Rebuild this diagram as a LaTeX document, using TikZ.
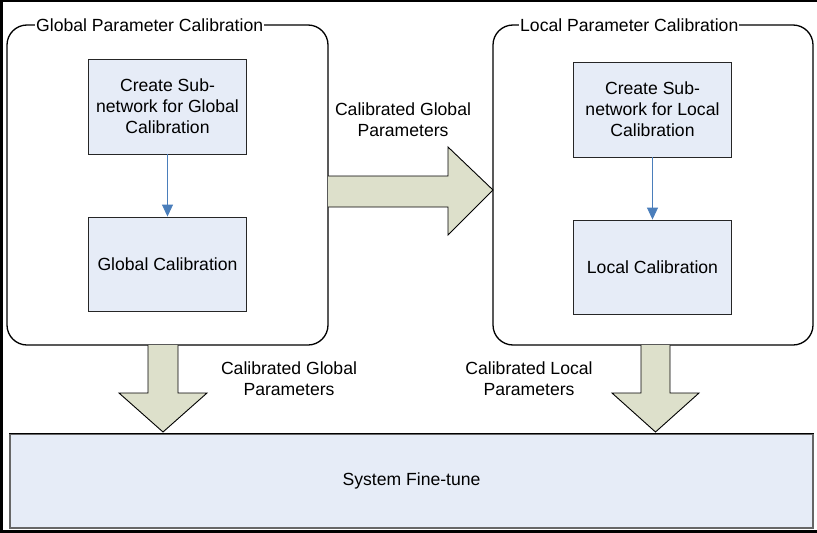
\documentclass[tikz,border=0pt]{standalone}
\usepackage{fontspec}
\setmainfont{Liberation Sans}
\usetikzlibrary{arrows.meta}
\definecolor{boxfill}{RGB}{230,236,247}
\definecolor{arrfill}{RGB}{221,224,203}
\definecolor{linkblue}{RGB}{74,126,187}
\tikzset{
  group/.style={draw=black, line width=1.3pt, rounded corners=20pt},
  grouptitle/.style={fill=white, inner xsep=1pt, inner ysep=0pt, anchor=west, font=\fontsize{17.6}{20}\selectfont},
  procbox/.style={draw=black!85, line width=0.9pt, fill=boxfill, minimum width=158pt, align=center, font=\fontsize{17.6}{21}\selectfont},
  blockarrow/.style={draw=black, line width=0.9pt, fill=arrfill, line join=miter},
  lbl/.style={align=center, font=\fontsize{17.6}{21}\selectfont},
  link/.style={draw=linkblue, line width=0.9pt, -{Triangle[length=12pt,width=11pt]}}
}
\begin{document}
\begin{tikzpicture}[x=1pt,y=-1pt]
\useasboundingbox (0,0) rectangle (817,533);
% outer frame
\draw[line width=2.5pt] (817,1.2) -- (1.5,1.2) -- (1.5,531.5) -- (817,531.5);

% groups
\draw[group] (7,25) rectangle (328,345);
\node[grouptitle] (gt) at (35,25) {Global Parameter Calibration};
\draw[group] (493,25) rectangle (813,345);
\node[grouptitle] (lt) at (519,25) {Local Parameter Calibration};

% inner boxes
\node[procbox, minimum height=95pt] (g1) at (167.5,106.5) {Create Sub-\\network for Global\\Calibration};
\node[procbox, minimum height=94pt] (g2) at (167.5,264) {Global Calibration};
\node[procbox, minimum height=95pt] (l1) at (652.5,109.5) {Create Sub-\\network for Local\\Calibration};
\node[procbox, minimum height=94pt] (l2) at (652.5,267) {Local Calibration};
\draw[link] (g1.south) -- (g2.north);
\draw[link] (l1.south) -- (l2.north);

% system box
\node[draw=black!60, line width=1.2pt, fill=boxfill, minimum width=803pt, minimum height=94pt, font=\fontsize{17.6}{20}\selectfont] (sys) at (411.5,481) {System Fine-tune};
\draw[black, line width=1pt] (sys.north west) -- (sys.north east);

% block arrows
\draw[blockarrow] (328,176) -- (448,176) -- (448,147) -- (493,190) -- (448,235) -- (448,207) -- (328,207);
\draw[blockarrow] (148,345) -- (148,393) -- (119,393) -- (163,432) -- (207,393) -- (178,393) -- (178,345);
\draw[blockarrow] (641,345) -- (641,393) -- (612,393) -- (655.5,432) -- (699,393) -- (670,393) -- (670,345);

% labels
\node[lbl] (a1) at (403,120) {Calibrated Global\\Parameters};
\node[lbl] (a2) at (289,379) {Calibrated Global\\Parameters};
\node[lbl] (a3) at (529,379) {Calibrated Local\\Parameters};
\end{tikzpicture}
\end{document}
